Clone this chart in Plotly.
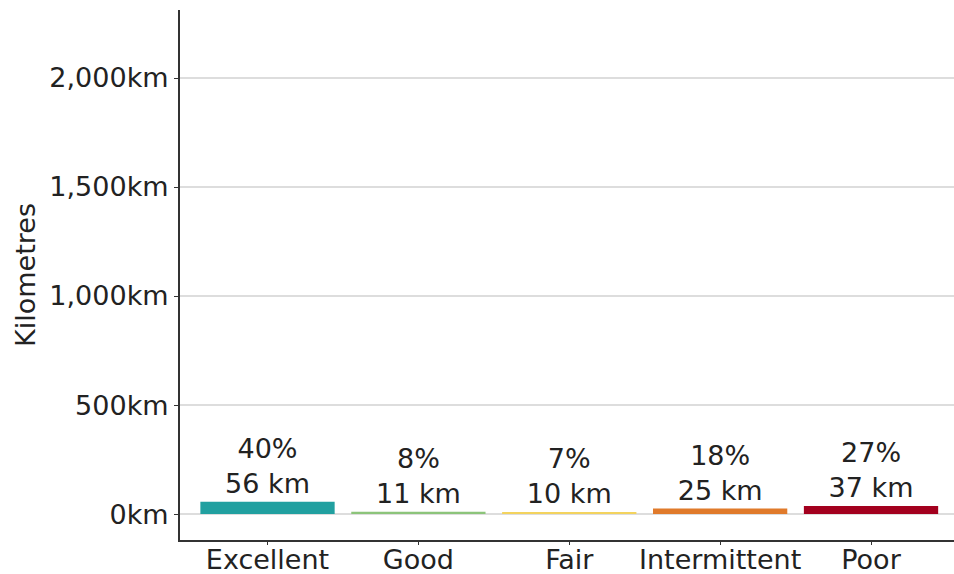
import plotly.graph_objects as go

categories = ["Excellent", "Good", "Fair", "Intermittent", "Poor"]
km_values = [56, 11, 10, 25, 37]
pct_labels = ["40%", "8%", "7%", "18%", "27%"]
colors = ["#21a0a0", "#8cc47a", "#f3d35e", "#e07a2b", "#a3001e"]
y_ticks = [0, 500, 1000, 1500, 2000]
y_tick_text = [f"{v:,}km" for v in y_ticks]

texts = [f"{p}<br>{v} km" for p, v in zip(pct_labels, km_values)]

fig = go.Figure(go.Bar(
    x=categories, y=km_values, marker=dict(color=colors, line=dict(width=0)),
    text=texts, textposition="outside", cliponaxis=False,
    textfont=dict(family="DejaVu Sans", size=27, color="#222222"),
    width=0.89,
))

fig.update_layout(
    width=954, height=574,
    margin=dict(l=180, r=0, t=10, b=34),
    paper_bgcolor="white", plot_bgcolor="white",
    font=dict(family="DejaVu Sans", color="#222222"),
    showlegend=False,
    uniformtext=dict(mode=False),
)
fig.update_xaxes(
    range=[-0.58, 4.55], showline=True, linecolor="#333333", linewidth=2,
    ticks="outside", ticklen=3, tickcolor="#333333", automargin=False,
    ticklabelstandoff=-8,
    tickfont=dict(size=27, family="DejaVu Sans", color="#222222"),
    showgrid=False,
)
fig.update_yaxes(
    range=[-119, 2312], tickvals=y_ticks, ticktext=y_tick_text,
    showline=True, linecolor="#333333", linewidth=2, automargin=False,
    ticks="outside", ticklen=4, tickcolor="#333333",
    tickfont=dict(size=27, family="DejaVu Sans", color="#222222"),
    showgrid=True, gridcolor="#dddddd", gridwidth=1.5,
    zeroline=True, zerolinecolor="#dddddd", zerolinewidth=1.5,
    title=dict(text="Kilometres", font=dict(size=27, family="DejaVu Sans", color="#222222"), standoff=6),
)

fig.write_html("out.html")
